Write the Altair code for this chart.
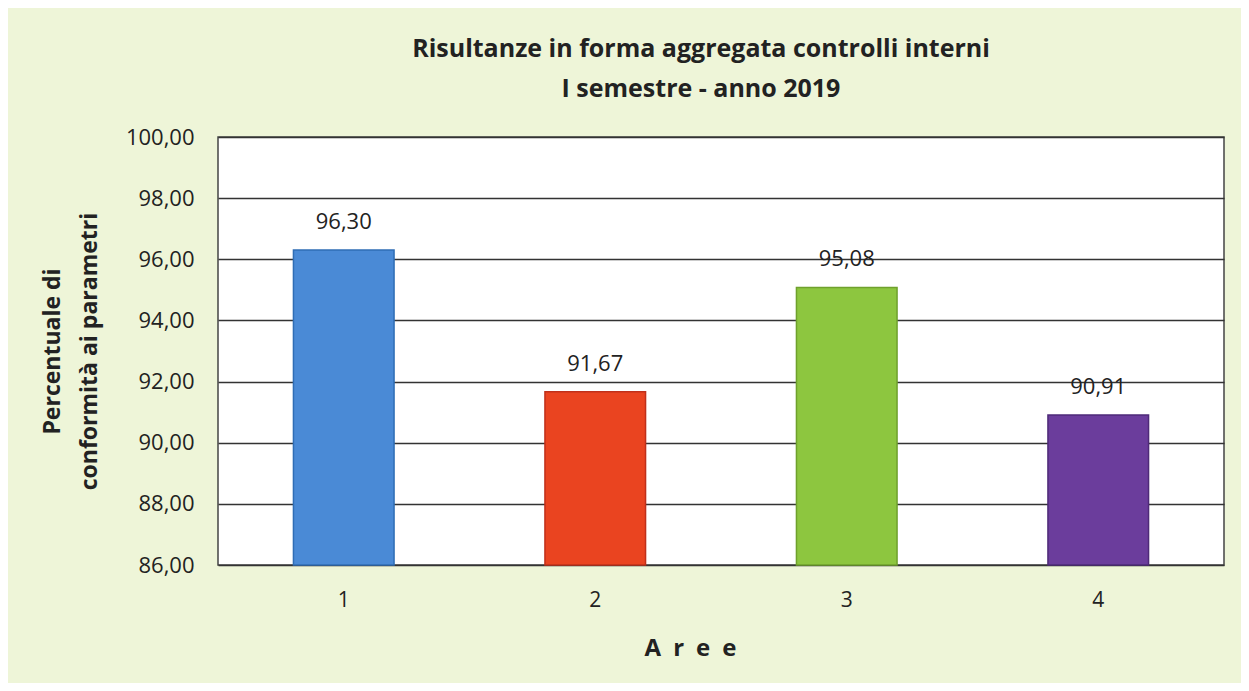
import altair as alt
import pandas as pd

areas = ["1", "2", "3", "4"]
values = [96.30, 91.67, 95.08, 90.91]
bar_colors = ["#4a8ad6", "#ea4420", "#8dc63f", "#6b3d9c"]
edge_colors = ["#2f6db5", "#c0301a", "#6fa12c", "#4e2a78"]
y_ticks = [86, 88, 90, 92, 94, 96, 98, 100]
title_lines = ["Risultanze in forma aggregata controlli interni", "I semestre - anno 2019"]
y_title = ["Percentuale di", "conformità ai parametri"]
x_title = "A\u2002r\u2002e\u2002e"

df = pd.DataFrame({"area": areas, "value": values})

FONT = "Open Sans"

x_enc = alt.X(
    "area:N",
    sort=areas,
    scale=alt.Scale(paddingInner=0.6, paddingOuter=0.3),
    axis=alt.Axis(
        title=x_title,
        labelAngle=0,
        ticks=False,
        domain=False,
        labelPadding=24,
        labelFontSize=21,
        labelFont=FONT,
        labelColor="#222222",
        titleFontSize=24,
        titleFont=FONT,
        titleFontWeight="bold",
        titleColor="#222222",
        titlePadding=26,
        titleX=472,
        titleAlign="center",
    ),
)

y_scale = alt.Scale(domain=[86, 100], zero=False, nice=False)

bars = alt.Chart(df).mark_bar(strokeWidth=1.5).encode(
    x=x_enc,
    y=alt.Y(
        "value:Q",
        scale=y_scale,
        axis=alt.Axis(
            title=y_title,
            values=y_ticks,
            labelExpr="replace(format(datum.value, '.2f'), '.', ',')",
            ticks=False,
            domain=False,
            gridColor="#333333",
            gridWidth=1.3,
            labelPadding=24,
            labelFontSize=22,
            labelFont=FONT,
            labelColor="#222222",
            titleFontSize=23,
            titleFont=FONT,
            titleFontWeight="bold",
            titleColor="#222222",
            titleLineHeight=37,
            titlePadding=24,
        ),
    ),
    y2=alt.datum(86),
    color=alt.Color("area:N", sort=areas, scale=alt.Scale(domain=areas, range=bar_colors), legend=None),
    stroke=alt.Stroke("area:N", sort=areas, scale=alt.Scale(domain=areas, range=edge_colors), legend=None),
)

labels = alt.Chart(df).transform_calculate(
    label="replace(format(datum.value, '.2f'), '.', ',')"
).mark_text(
    baseline="bottom", dy=-16, fontSize=22, font=FONT, color="#222222"
).encode(
    x=alt.X("area:N", sort=areas),
    y=alt.Y("value:Q", scale=y_scale),
    text="label:N",
)

chart = (
    alt.layer(bars, labels)
    .properties(
        width=1006,
        height=428,
        autosize=alt.AutoSizeParams(type="none"),
        padding={"left": 210, "top": 129, "right": 17, "bottom": 118},
        background="#eef5d8",
        title=alt.TitleParams(
            title_lines,
            fontSize=25,
            font=FONT,
            fontWeight="bold",
            color="#222222",
            lineHeight=40,
            anchor="middle",
            dx=-20,
            offset=24,
        ),
    )
    .configure_view(fill="white", stroke="#444444", strokeWidth=1.5)
)

chart.save("out.html", embed_options={"renderer": "svg", "actions": False})
